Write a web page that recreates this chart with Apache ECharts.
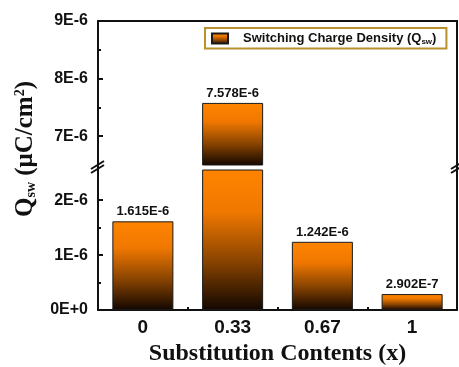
<!DOCTYPE html>
<html><head><meta charset="utf-8">
<script src="https://cdn.jsdelivr.net/npm/echarts@6/dist/echarts.min.js"></script>
<style>html,body{margin:0;padding:0;background:#fff}#c{width:459px;height:367px}</style>
</head><body><div id="c"></div>
<script>
var categories = ['0', '0.33', '0.67', '1'];
var qswValues = [1.615e-6, 7.578e-6, 1.242e-6, 2.902e-7];
var seriesName = 'Switching Charge Density (Qsw)';
var lowerRange = [0, 2.55e-6];
var upperRange = [6.5e-6, 9e-6];
var lowerTicks = [0, 1e-6, 2e-6];
var lowerMinorTicks = [0.5e-6, 1.5e-6];
var upperTicks = [7e-6, 8e-6, 9e-6];
var upperMinorTicks = [7.5e-6, 8.5e-6];

function sciTick(v) {
  if (v === 0) return '0E+0';
  var e = Math.floor(Math.log10(Math.abs(v)) + 1e-9);
  var m = Math.round(v / Math.pow(10, e));
  return m + 'E' + (e >= 0 ? '+' : '') + e;
}
function sciLabel(v) {
  return v.toExponential(3).toUpperCase();
}

var chart = echarts.init(document.getElementById('c'), null, {renderer: 'canvas'});
var lineStyle = {color: '#111', width: 2};
var labelFont = {fontFamily: 'Liberation Sans, Arial', fontWeight: 'bold', fontSize: 16, color: '#111'};
var grad = new echarts.graphic.LinearGradient(0, 0, 0, 1, [
  {offset: 0, color: '#ff8400'},
  {offset: 0.3, color: '#f07800'},
  {offset: 0.65, color: '#8a4400'},
  {offset: 1, color: '#130700'}
]);

function yMain(grid, range, ticks) {
  return {type: 'value', gridIndex: grid, min: range[0], max: range[1],
    axisLine: {show: true, lineStyle: lineStyle},
    axisTick: {show: true, inside: true, length: 5, lineStyle: lineStyle, customValues: ticks},
    axisLabel: Object.assign({customValues: ticks, margin: 10, formatter: sciTick}, labelFont),
    splitLine: {show: false}};
}
function yMinor(grid, range, ticks) {
  return {type: 'value', gridIndex: grid, min: range[0], max: range[1], position: 'left',
    axisLine: {show: false},
    axisTick: {show: true, inside: true, length: 3, lineStyle: lineStyle, customValues: ticks},
    axisLabel: {show: false}, splitLine: {show: false}};
}
function yRight(grid, range) {
  return {type: 'value', gridIndex: grid, min: range[0], max: range[1], position: 'right',
    axisLine: {show: true, lineStyle: lineStyle}, axisTick: {show: false},
    axisLabel: {show: false}, splitLine: {show: false}};
}
var barLabel = {show: true, position: 'top', distance: 3, fontFamily: 'Liberation Sans, Arial', fontWeight: 'bold', fontSize: 13, color: '#111'};

var option = {
  animation: false,
  backgroundColor: '#fff',
  grid: [
    {left: 98, right: 2, top: 21, height: 144},
    {left: 98, right: 2, top: 170, bottom: 54}
  ],
  xAxis: [
    {type: 'category', gridIndex: 0, data: categories, position: 'top',
      axisLine: {show: true, lineStyle: lineStyle}, axisTick: {show: false}, axisLabel: {show: false}},
    {type: 'category', gridIndex: 1, data: categories, position: 'bottom',
      axisLine: {show: true, lineStyle: lineStyle},
      axisTick: {show: true, inside: true, length: 3, lineStyle: lineStyle},
      axisLabel: Object.assign({margin: 8}, labelFont, {fontSize: 19}),
      name: 'Substitution Contents (x)', nameLocation: 'middle', nameGap: 32,
      nameTextStyle: {fontFamily: 'Liberation Serif, Times New Roman', fontWeight: 'bold', fontSize: 24, color: '#111'}},
    {type: 'category', gridIndex: 1, data: categories, position: 'bottom',
      axisLine: {show: false},
      axisTick: {show: true, inside: true, length: 3, alignWithLabel: true, lineStyle: lineStyle},
      axisLabel: {show: false}}
  ],
  yAxis: [
    yMain(0, upperRange, upperTicks), yMinor(0, upperRange, upperMinorTicks), yRight(0, upperRange),
    yMain(1, lowerRange, lowerTicks), yMinor(1, lowerRange, lowerMinorTicks), yRight(1, lowerRange)
  ],
  legend: {
    data: [{name: seriesName, icon: 'rect'}],
    left: 205, top: 28, orient: 'horizontal',
    padding: [4, 10, 3, 6], itemWidth: 16, itemHeight: 10,
    borderColor: '#b8902c', borderWidth: 2, backgroundColor: '#fff',
    formatter: function () { return '{g|}Switching Charge Density (Q{sub|sw})'; },
    textStyle: {fontFamily: 'Liberation Sans, Arial', fontWeight: 'bold', fontSize: 13, color: '#111',
      rich: {g: {width: 10}, sub: {fontSize: 8, verticalAlign: 'bottom', padding: [6, 0, 0, 0],
        fontFamily: 'Liberation Sans, Arial', fontWeight: 'bold', color: '#111'}}}
  },
  series: [
    {name: seriesName, type: 'bar', xAxisIndex: 0, yAxisIndex: 0, data: qswValues, barWidth: '68%',
      itemStyle: {color: grad, borderColor: '#1a1a1a', borderWidth: 1},
      label: Object.assign({formatter: function (p) { return p.value >= upperRange[0] ? sciLabel(p.value) : ''; }}, barLabel)},
    {name: seriesName, type: 'bar', xAxisIndex: 1, yAxisIndex: 3, data: qswValues, barWidth: '68%',
      itemStyle: {color: grad, borderColor: '#1a1a1a', borderWidth: 1},
      label: Object.assign({formatter: function (p) { return p.value <= lowerRange[1] ? sciLabel(p.value) : ''; }}, barLabel)}
  ],
  graphic: [
    {type: 'text', x: 26, y: 149, rotation: Math.PI / 2,
      style: {text: 'Q{sub|sw} (μC/cm{sup|2})', align: 'center', verticalAlign: 'middle',
        fontFamily: 'Liberation Serif, Times New Roman', fontWeight: 'bold', fontSize: 25, fill: '#111',
        rich: {sub: {fontSize: 14, verticalAlign: 'bottom', padding: [10, 0, 0, 0], fontFamily: 'Liberation Serif', fontWeight: 'bold', fill: '#111'},
               sup: {fontSize: 14, verticalAlign: 'top', padding: [0, 0, 10, 0], fontFamily: 'Liberation Serif', fontWeight: 'bold', fill: '#111'}}}},
    {type: 'line', shape: {x1: 98, y1: 164, x2: 98, y2: 171}, style: {stroke: '#111', lineWidth: 2}},
    {type: 'line', shape: {x1: 91, y1: 169, x2: 104, y2: 161}, style: {stroke: '#111', lineWidth: 2}},
    {type: 'line', shape: {x1: 91, y1: 173, x2: 104, y2: 165}, style: {stroke: '#111', lineWidth: 2}},
    {type: 'line', shape: {x1: 457, y1: 164, x2: 457, y2: 171}, style: {stroke: '#111', lineWidth: 2}},
    {type: 'line', shape: {x1: 451, y1: 169, x2: 464, y2: 161}, style: {stroke: '#111', lineWidth: 2}},
    {type: 'line', shape: {x1: 451, y1: 173, x2: 464, y2: 165}, style: {stroke: '#111', lineWidth: 2}}
  ]
};
chart.setOption(option);
</script></body></html>
